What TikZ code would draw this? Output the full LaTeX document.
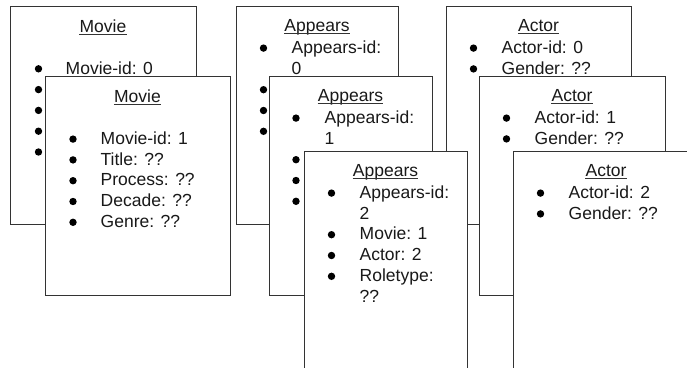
\documentclass[tikz,border=0pt]{standalone}
\usepackage{fontspec}
\setmainfont{Liberation Sans}
\begin{document}
\begin{tikzpicture}[x=1pt,y=-1pt,
  cardbox/.style={draw=black!80, line width=0.9pt, fill=white, anchor=north west, inner sep=0pt, outer sep=0pt},
  ttl/.style={anchor=base, inner sep=0pt, font=\fontsize{17.5}{20.8}\selectfont, text=black!90},
  itm/.style={anchor=base west, inner sep=0pt, font=\fontsize{17.5}{20.8}\selectfont, text=black!90},
  ul/.style={line width=1.1pt, black!80},
  dot/.style={fill=black}]
\fill[white] (0,0) rectangle (687,367);
\useasboundingbox (0,0) rectangle (687,367);
\clip (0,0) rectangle (687,367);
% ---------- Movie 0
\node[cardbox, minimum width=186pt, minimum height=218pt] (m0) at (10,6) {};
\node[ttl] (m0t) at (103,32.7) {Movie};
\draw[ul] ([yshift=-2.2pt]m0t.base west) -- ([yshift=-2.2pt]m0t.base east);
\node[itm] (m0a) at (65.5,74) {Movie-id: 0};
\foreach \yy in {68.8,89.6,110.4,131.2,152.0} \fill[dot] (38.5,\yy) circle (3.7pt);
% ---------- Movie 1
\node[cardbox, minimum width=185pt, minimum height=219pt] (m1) at (45,76) {};
\node[ttl] (m1t) at (137.5,102.7) {Movie};
\draw[ul] ([yshift=-2.2pt]m1t.base west) -- ([yshift=-2.2pt]m1t.base east);
\node[itm] (m1a) at (100.5,144.3) {Movie-id: 1};
\node[itm] (m1b) at (100.5,165.1) {Title: ??};
\node[itm] (m1c) at (100.5,185.9) {Process: ??};
\node[itm] (m1d) at (100.5,206.7) {Decade: ??};
\node[itm] (m1e) at (100.5,227.5) {Genre: ??};
\foreach \yy in {139.1,159.9,180.7,201.5,222.3} \fill[dot] (73,\yy) circle (3.7pt);
% ---------- Actor 0
\node[cardbox, minimum width=185pt, minimum height=218pt] (a0) at (446,6) {};
\node[ttl] (a0t) at (538.5,31.5) {Actor};
\draw[ul] ([yshift=-2.2pt]a0t.base west) -- ([yshift=-2.2pt]a0t.base east);
\node[itm] (a0a) at (501.5,53.3) {Actor-id: 0};
\node[itm] (a0b) at (501.5,74.1) {Gender: ??};
\foreach \yy in {48.1,68.9} \fill[dot] (473.5,\yy) circle (3.7pt);
% ---------- Actor 1
\node[cardbox, minimum width=186pt, minimum height=219pt] (a1) at (479,76) {};
\node[ttl] (a1t) at (572,101.5) {Actor};
\draw[ul] ([yshift=-2.2pt]a1t.base west) -- ([yshift=-2.2pt]a1t.base east);
\node[itm] (a1a) at (534.5,123.3) {Actor-id: 1};
\node[itm] (a1b) at (534.5,144.1) {Gender: ??};
\foreach \yy in {118.1,138.9} \fill[dot] (506.5,\yy) circle (3.7pt);
% ---------- Actor 2
\node[cardbox, minimum width=186pt, minimum height=230pt] (a2) at (513,151) {};
\node[ttl] (a2t) at (606,176.5) {Actor};
\draw[ul] ([yshift=-2.2pt]a2t.base west) -- ([yshift=-2.2pt]a2t.base east);
\node[itm] (a2a) at (568.5,198.3) {Actor-id: 2};
\node[itm] (a2b) at (568.5,219.1) {Gender: ??};
\foreach \yy in {193.1,213.9} \fill[dot] (540.5,\yy) circle (3.7pt);
% ---------- Appears 0
\node[cardbox, minimum width=162pt, minimum height=218pt] (p0) at (236,6) {};
\node[ttl] (p0t) at (317,31.5) {Appears};
\draw[ul] ([yshift=-2.2pt]p0t.base west) -- ([yshift=-2.2pt]p0t.base east);
\node[itm] (p0a) at (291.5,53.3) {Appears-id:};
\node[itm] (p0b) at (291.5,74.1) {0};
\foreach \yy in {48.1,89.7,110.5,131.3} \fill[dot] (263.5,\yy) circle (3.7pt);
% ---------- Appears 1
\node[cardbox, minimum width=163pt, minimum height=219pt] (p1) at (269,76) {};
\node[ttl] (p1t) at (350.5,101.5) {Appears};
\draw[ul] ([yshift=-2.2pt]p1t.base west) -- ([yshift=-2.2pt]p1t.base east);
\node[itm] (p1a) at (324.5,123.3) {Appears-id:};
\node[itm] (p1b) at (324.5,144.1) {1};
\foreach \yy in {118.1,159.7,180.5,201.3} \fill[dot] (296,\yy) circle (3.7pt);
% ---------- Appears 2
\node[cardbox, minimum width=163pt, minimum height=230pt] (p2) at (304,151) {};
\node[ttl] (p2t) at (385.5,176.5) {Appears};
\draw[ul] ([yshift=-2.2pt]p2t.base west) -- ([yshift=-2.2pt]p2t.base east);
\node[itm] (p2a) at (359.5,198.3) {Appears-id:};
\node[itm] (p2b) at (359.5,219.1) {2};
\node[itm] (p2c) at (359.5,239.9) {Movie: 1};
\node[itm] (p2d) at (359.5,260.7) {Actor: 2};
\node[itm] (p2e) at (359.5,281.5) {Roletype:};
\node[itm] (p2f) at (359.5,302.3) {??};
\foreach \yy in {193.1,234.7,255.5,276.3} \fill[dot] (331.5,\yy) circle (3.7pt);
\end{tikzpicture}
\end{document}
